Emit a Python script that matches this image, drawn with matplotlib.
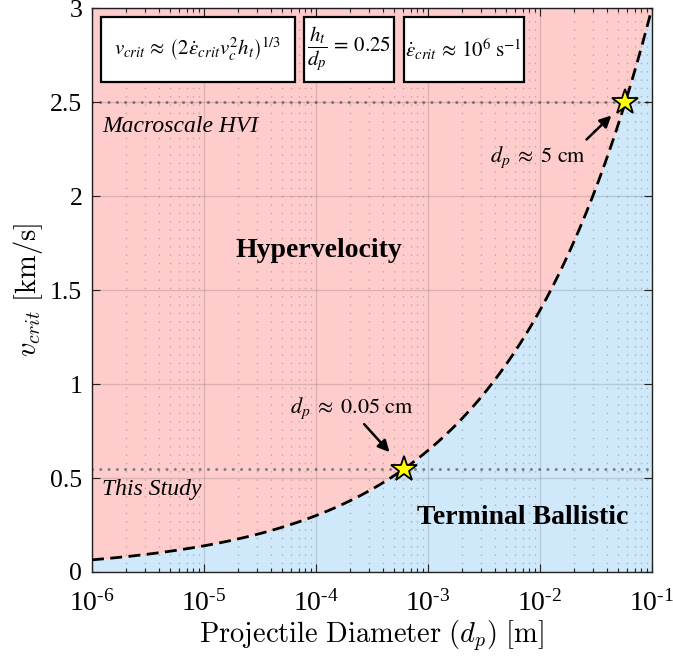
import numpy as np
import matplotlib
matplotlib.use("Agg")
import matplotlib.pyplot as plt
from matplotlib.patches import Rectangle
from matplotlib.ticker import LogLocator, NullFormatter

plt.rcParams["mathtext.rm"] = "Liberation Serif"
plt.rcParams["mathtext.it"] = "Liberation Serif:italic"
plt.rcParams["mathtext.bf"] = "Liberation Serif:bold"

# Model parameters (v_crit ~ (2 * eps_dot * v_c^2 * h_t)^(1/3), h_t = 0.25 d_p)
strain_rate = 1e6          # 1/s
ht_over_dp = 0.25
v_c = 735.0                # m/s
d_min, d_max = 1e-6, 1e-1  # m

# Reference velocities (km/s)
v_macro = 2.5
v_study = 0.55

x_ticks = [1e-6, 1e-5, 1e-4, 1e-3, 1e-2, 1e-1]
x_tick_labels = ["10$^{\u2010" + e + "}$" for e in ["6", "5", "4", "3", "2", "1"]]
y_ticks = [0, 0.5, 1, 1.5, 2, 2.5, 3]
y_tick_labels = ["0", "0.5", "1", "1.5", "2", "2.5", "3"]


def v_crit(d):
    return (2 * strain_rate * v_c**2 * ht_over_dp * d) ** (1 / 3) / 1000.0


def d_from_v(v_kms):
    v = v_kms * 1000.0
    return v**3 / (2 * strain_rate * v_c**2 * ht_over_dp)


d = np.logspace(np.log10(d_min), np.log10(d_max), 400)
v = v_crit(d)

pink = "#ffcccc"
blue = "#cfe8fa"
serif = "Liberation Serif"

fig = plt.figure(figsize=(6.73, 6.58), dpi=100)
ax = fig.add_axes([0.1367, 0.1307, 0.9688 - 0.1367, 0.9878 - 0.1307])

ax.set_xscale("log")
ax.set_xlim(d_min, d_max)
ax.set_ylim(0, 3)

# Regions
ax.fill_between(d, v, 3, color=pink, lw=0, zorder=0)
ax.fill_between(d, 0, v, color=blue, lw=0, zorder=0)

# Grid
ax.grid(True, which="major", color="#000000", alpha=0.13, lw=1.0, zorder=1)
ax.xaxis.set_minor_locator(LogLocator(base=10, subs=np.arange(2, 10)))
ax.xaxis.grid(True, which="minor", color="#888888", alpha=0.55, lw=1.0,
              linestyle=(0, (1, 5)), zorder=1)
ax.set_axisbelow(False)

# Reference lines
for vr in (v_macro, v_study):
    ax.axhline(vr, color="#7f7f7f", lw=2.2, linestyle=(0, (0.01, 2.7)),
               dash_capstyle="round", zorder=2)

# Critical velocity curve
ax.plot(d, v, color="black", lw=2.0, linestyle=(0, (4.3, 2.3)), zorder=3)

# Markers
d_stars = [d_from_v(v_study), d_from_v(v_macro)]
v_stars = [v_study, v_macro]
ax.plot(d_stars, v_stars, linestyle="none", marker="*", markersize=19,
        markerfacecolor="#ffff00", markeredgecolor="black", markeredgewidth=1.3,
        zorder=5)

# Ticks
ax.set_xticks(x_ticks)
ax.set_xticklabels(x_tick_labels, fontsize=20, family=serif,
                   math_fontfamily="custom")
ax.xaxis.set_minor_formatter(NullFormatter())
ax.set_yticks(y_ticks)
ax.set_yticklabels(y_tick_labels, fontsize=18.5, family=serif)
ax.tick_params(which="both", direction="in", top=True, right=True, colors="#222222",
               labelcolor="black")
ax.tick_params(which="major", length=6, width=0.8)
ax.tick_params(axis="x", which="major", pad=13)
ax.tick_params(axis="y", which="major", pad=7)
ax.tick_params(which="minor", length=3, width=0.8)
for s in ax.spines.values():
    s.set_color("#222222")
    s.set_linewidth(1.0)

ax.set_xlabel(r"$\mathrm{Projectile\ Diameter\ (}d_p\mathrm{)\ [m]}$",
              math_fontfamily="cm", fontsize=20.5, labelpad=1)
ax.set_ylabel(r"$v_{crit}\ \mathrm{[km/s]}$", math_fontfamily="cm",
              fontsize=20.5, labelpad=4)

# Region labels
ax.text(0.405, 0.57, "Hypervelocity", transform=ax.transAxes, ha="center",
        va="center", fontsize=20, fontweight="bold", family=serif)
ax.text(0.769, 0.097, "Terminal Ballistic", transform=ax.transAxes,
        ha="center", va="center", fontsize=20, fontweight="bold", family=serif)
ax.text(0.018, 0.79, "Macroscale HVI", transform=ax.transAxes, ha="left",
        va="center", fontsize=17, style="italic", family=serif)
ax.text(0.018, 0.146, "This Study", transform=ax.transAxes, ha="left",
        va="center", fontsize=17, style="italic", family=serif)

# Point annotations
ax.text(0.464, 0.291, r"$d_p\;\approx\;0.05\ \mathrm{cm}$", transform=ax.transAxes,
        ha="center", va="center", fontsize=16, math_fontfamily="stix")
ax.text(0.796, 0.736, r"$d_p\;\approx\;5\ \mathrm{cm}$", transform=ax.transAxes,
        ha="center", va="center", fontsize=16, math_fontfamily="stix")
arrow = dict(arrowstyle="-|>", color="black", lw=1.8, mutation_scale=17,
             shrinkA=0)
ax.annotate("", xy=(d_stars[0], v_stars[0]), xytext=(-29, 32),
            textcoords="offset points", arrowprops=dict(arrow, shrinkB=16))
ax.annotate("", xy=(d_stars[1], v_stars[1]), xytext=(-28, -27),
            textcoords="offset points", arrowprops=dict(arrow, shrinkB=14))

# Equation boxes (axes-fraction coordinates)
boxes = [
    ((0.0161, 0.869), 0.346, 0.115,
     r"$v_{crit}\,\approx\,\left(2\dot{\varepsilon}_{crit} v_c^2 h_t\right)^{1/3}$", 15),
    ((0.3786, 0.869), 0.161, 0.115, r"$\dfrac{h_t}{d_p}\,=\,0.25$", 15),
    ((0.5571, 0.869), 0.214, 0.115,
     r"$\dot{\varepsilon}_{crit}\,\approx\,10^6\ \mathrm{s}^{-1}$", 15),
]
for (x0, y0), w, h, txt, fs in boxes:
    ax.add_patch(Rectangle((x0, y0), w, h, transform=ax.transAxes,
                           facecolor="white", edgecolor="black", lw=1.6,
                           zorder=6))
    ax.text(x0 + w / 2, y0 + h / 2, txt, transform=ax.transAxes, ha="center",
            va="center", fontsize=fs, math_fontfamily="stix", zorder=7)

fig.savefig("out.png", dpi=100)
